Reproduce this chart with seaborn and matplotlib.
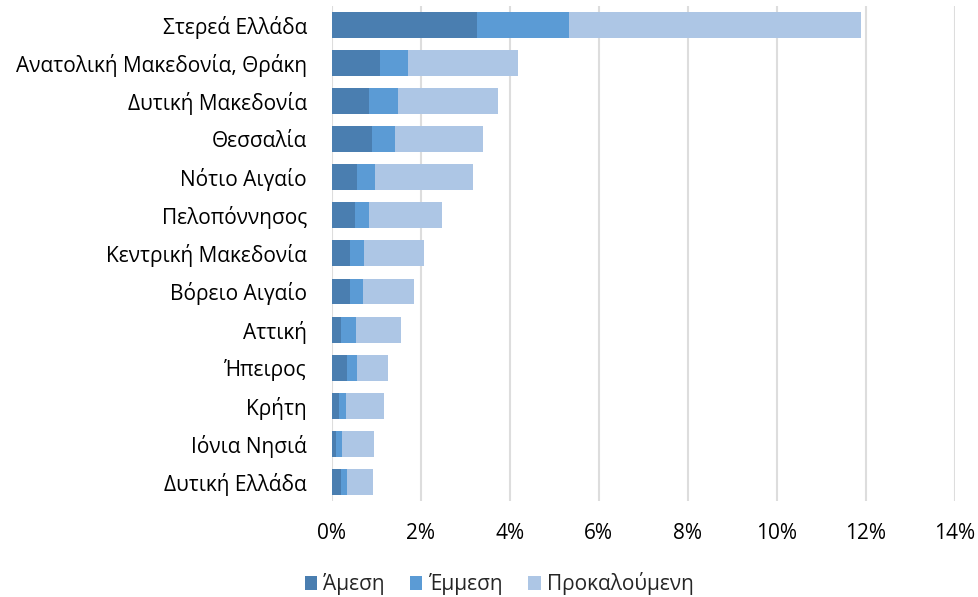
import pandas as pd
import numpy as np
import matplotlib.pyplot as plt
import seaborn as sns
from matplotlib.patches import Patch
from matplotlib.ticker import FuncFormatter

# Data (% share per region)
regions = ['Στερεά Ελλάδα', 'Ανατολική Μακεδονία, Θράκη', 'Δυτική Μακεδονία',
           'Θεσσαλία', 'Νότιο Αιγαίο', 'Πελοπόννησος', 'Κεντρική Μακεδονία',
           'Βόρειο Αιγαίο', 'Αττική', 'Ήπειρος', 'Κρήτη', 'Ιόνια Νησιά',
           'Δυτική Ελλάδα']
direct = [3.26, 1.08, 0.83, 0.90, 0.56, 0.51, 0.41, 0.41, 0.20, 0.34, 0.16, 0.09, 0.20]
indirect = [2.07, 0.63, 0.65, 0.52, 0.41, 0.32, 0.31, 0.29, 0.34, 0.22, 0.15, 0.13, 0.14]
induced = [6.57, 2.47, 2.25, 1.98, 2.20, 1.64, 1.35, 1.15, 1.01, 0.70, 0.86, 0.72, 0.58]

series_names = ['Άμεση', 'Έμμεση', 'Προκαλούμενη']
colors = ['#4A7EB0', '#5B9BD5', '#ADC6E5']

df = pd.DataFrame({'region': regions, 'direct': direct,
                   'indirect': indirect, 'induced': induced})
df['c1'] = df['direct']
df['c2'] = df['c1'] + df['indirect']
df['c3'] = df['c2'] + df['induced']

sns.set_style('white')
plt.rcParams['font.family'] = ['Open Sans', 'DejaVu Sans']

fig = plt.figure(figsize=(9.79, 5.97), dpi=100)
ax = fig.add_axes([0.339, 0.161, 0.636, 0.829])

# draw cumulative totals from the back to the front
for col, color in zip(['c3', 'c2', 'c1'], colors[::-1]):
    sns.barplot(data=df, x=col, y='region', color=color, orient='h',
                width=0.68, saturation=1, linewidth=0, ax=ax, zorder=3)

ax.set_xlim(0, 14)
ax.set_xticks(np.arange(0, 15, 2))
ax.xaxis.set_major_formatter(FuncFormatter(lambda v, p: f'{v:.0f}%'))
ax.grid(True, axis='x', color='#DDDDDD', linewidth=1.5, zorder=0)
ax.set_axisbelow(True)
for s in ax.spines.values():
    s.set_visible(False)
ax.set_xlabel('')
ax.set_ylabel('')
ax.tick_params(axis='both', length=0, labelsize=15, colors='#000000')
ax.tick_params(axis='x', pad=16)
ax.tick_params(axis='y', pad=18)

handles = [Patch(facecolor=c, edgecolor='none') for c in colors]
fig.legend(handles, series_names, loc='center', bbox_to_anchor=(0.51, 0.022),
           ncol=3, frameon=False, fontsize=15, handlelength=0.6,
           handleheight=0.6, handletextpad=0.3, columnspacing=1.2)

plt.savefig('out.png', dpi=100)
plt.close()
